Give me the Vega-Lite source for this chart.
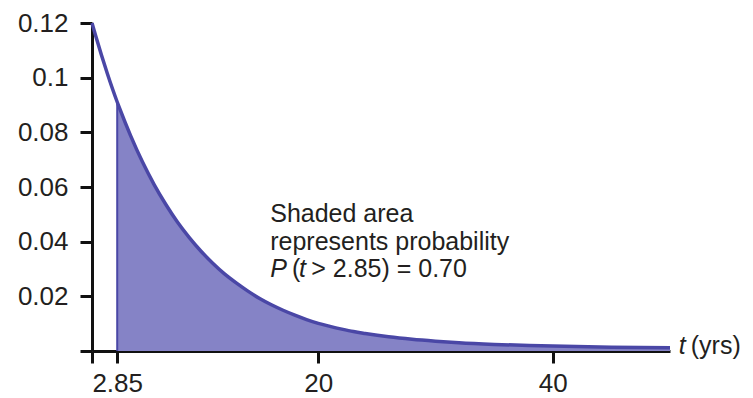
{
  "$schema": "https://vega.github.io/schema/vega-lite/v6.json",
  "width": 578,
  "height": 328,
  "autosize": {"type": "none"},
  "padding": {"left": 92, "top": 23, "right": 83, "bottom": 47},
  "background": "white",
  "config": {"view": {"stroke": null}},
  "datasets": {
    "curve": [
      {"t": 0.7, "v": 0.12},
      {"t": 1, "v": 0.1155},
      {"t": 2, "v": 0.1016},
      {"t": 2.85, "v": 0.0911},
      {"t": 3, "v": 0.0894},
      {"t": 4, "v": 0.0787},
      {"t": 5, "v": 0.0692},
      {"t": 6, "v": 0.0609},
      {"t": 7, "v": 0.0536},
      {"t": 8, "v": 0.0471},
      {"t": 9, "v": 0.0415},
      {"t": 10, "v": 0.0365},
      {"t": 11, "v": 0.0321},
      {"t": 12, "v": 0.0282},
      {"t": 13, "v": 0.0249},
      {"t": 14, "v": 0.0219},
      {"t": 15, "v": 0.0192},
      {"t": 16, "v": 0.0169},
      {"t": 17, "v": 0.0149},
      {"t": 18, "v": 0.0131},
      {"t": 19, "v": 0.0115},
      {"t": 20, "v": 0.0101},
      {"t": 21, "v": 0.009},
      {"t": 22, "v": 0.008},
      {"t": 23, "v": 0.0071},
      {"t": 24, "v": 0.0064},
      {"t": 26, "v": 0.0052},
      {"t": 28, "v": 0.0043},
      {"t": 30, "v": 0.0036},
      {"t": 32, "v": 0.003},
      {"t": 35, "v": 0.0024},
      {"t": 38, "v": 0.002},
      {"t": 40, "v": 0.0018},
      {"t": 45, "v": 0.0014},
      {"t": 50, "v": 0.0012}
    ],
    "cut": [{"t": 2.85, "v": 0.0911}],
    "upright": [
      {"t": 15.9, "v": 0.0472, "label": "Shaded area"},
      {"t": 15.9, "v": 0.037, "label": "represents probability"},
      {"t": 17.75, "v": 0.0271, "label": "("},
      {"t": 19.4, "v": 0.0271, "label": "> 2.85) = 0.70"},
      {"t": 51.77, "v": -0.0011, "label": "(yrs)"}
    ],
    "italic": [
      {"t": 15.9, "v": 0.0271, "label": "P"},
      {"t": 18.35, "v": 0.0271, "label": "t"},
      {"t": 50.74, "v": -0.0011, "label": "t"}
    ]
  },
  "encoding": {
    "x": {
      "field": "t",
      "type": "quantitative",
      "scale": {"domain": [0.7, 50], "nice": false, "zero": false},
      "axis": {
        "title": null,
        "grid": false,
        "values": [0.7, 2.85, 20, 40],
        "labelExpr": "datum.value < 1 ? '' : format(datum.value, '~g')",
        "labelFlush": false,
        "labelOverlap": false,
        "domainColor": "#111111",
        "domainWidth": 3,
        "tickColor": "#111111",
        "tickWidth": 3,
        "tickSize": 12,
        "labelFont": "Liberation Sans",
        "labelFontSize": 26,
        "labelColor": "#231f20",
        "labelPadding": 7
      }
    },
    "y": {
      "field": "v",
      "type": "quantitative",
      "scale": {"domain": [0, 0.12], "nice": false},
      "axis": {
        "title": null,
        "grid": false,
        "values": [0, 0.02, 0.04, 0.06, 0.08, 0.1, 0.12],
        "labelExpr": "datum.value == 0 ? '' : format(datum.value, '~g')",
        "labelFlush": false,
        "labelOverlap": false,
        "domainColor": "#111111",
        "domainWidth": 3,
        "tickColor": "#111111",
        "tickWidth": 3,
        "tickSize": 12,
        "labelFont": "Liberation Sans",
        "labelFontSize": 26,
        "labelColor": "#231f20",
        "labelPadding": 12
      }
    }
  },
  "layer": [
    {
      "data": {"name": "curve"},
      "transform": [{"filter": "datum.t >= 2.85"}],
      "mark": {"type": "area", "color": "#8583c6", "opacity": 1, "interpolate": "monotone"}
    },
    {
      "data": {"name": "cut"},
      "mark": {"type": "rule", "color": "#4a47a6", "strokeWidth": 2},
      "encoding": {"y2": {"datum": 0}}
    },
    {
      "data": {"name": "curve"},
      "mark": {"type": "line", "color": "#4a47a6", "strokeWidth": 3.5, "interpolate": "monotone"}
    },
    {
      "data": {"name": "upright"},
      "mark": {"type": "text", "align": "left", "baseline": "alphabetic", "font": "Liberation Sans", "fontSize": 25, "color": "#231f20"},
      "encoding": {"text": {"field": "label"}}
    },
    {
      "data": {"name": "italic"},
      "mark": {"type": "text", "align": "left", "baseline": "alphabetic", "font": "Liberation Sans", "fontSize": 25, "fontStyle": "italic", "color": "#231f20"},
      "encoding": {"text": {"field": "label"}}
    }
  ]
}
